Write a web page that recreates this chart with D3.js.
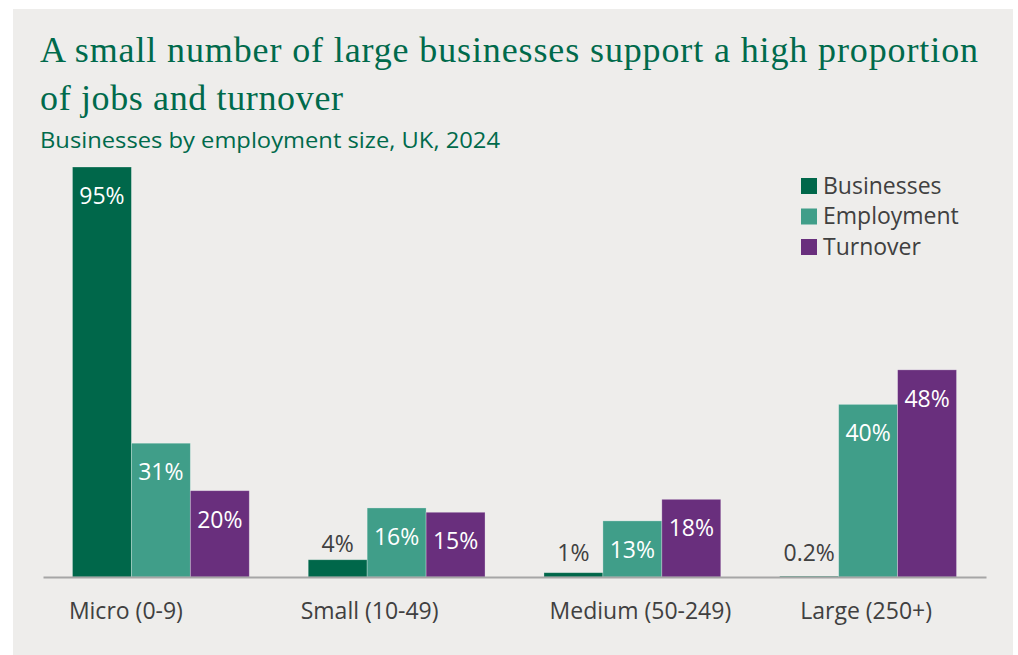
<!DOCTYPE html>
<html>
<head>
<meta charset="utf-8">
<script src="https://cdn.jsdelivr.net/npm/d3@7/dist/d3.min.js"></script>
<style>
  html, body { margin: 0; padding: 0; background: #ffffff; }
  svg { display: block; }
</style>
</head>
<body>
<svg id="chart" width="1018" height="655"></svg>
<script>
// Business population by employment size band, UK 2024 (share of total, %)
const categories = ["Micro (0-9)", "Small (10-49)", "Medium (50-249)", "Large (250+)"];
const seriesNames = ["Businesses", "Employment", "Turnover"];
const businesses = [95, 4, 1, 0.2];
const employment = [31, 16, 13, 40];
const turnover = [20, 15, 18, 48];
const valueLabels = [
  ["95%", "4%", "1%", "0.2%"],
  ["31%", "16%", "13%", "40%"],
  ["20%", "15%", "18%", "48%"]
];

const colors = ["#00674A", "#409E89", "#692F7D"];
const green = "#006A4B";
const sans = "'Open Sans', 'Noto Sans', sans-serif";

const svg = d3.select("#chart");
const W = 1018, H = 655;

// panel background
svg.append("rect").attr("x", 13).attr("y", 9).attr("width", 1000).attr("height", H - 9)
  .attr("fill", "#EEEDEB");

// headings
svg.append("text").attr("x", 40).attr("y", 62)
  .attr("font-family", "'Liberation Serif', 'Times New Roman', serif")
  .attr("font-size", 36).attr("fill", green)
  .attr("textLength", 938).attr("lengthAdjust", "spacing")
  .text("A small number of large businesses support a high proportion");
svg.append("text").attr("x", 40).attr("y", 110)
  .attr("font-family", "'Liberation Serif', 'Times New Roman', serif")
  .attr("font-size", 36).attr("fill", green)
  .attr("textLength", 303).attr("lengthAdjust", "spacing")
  .text("of jobs and turnover");
svg.append("text").attr("x", 40).attr("y", 148)
  .attr("font-family", sans).attr("font-size", 22).attr("fill", green)
  .attr("textLength", 460).attr("lengthAdjust", "spacingAndGlyphs")
  .text("Businesses by employment size, UK, 2024");

// scales
const x0 = d3.scaleBand().domain(categories).range([43, 986])
  .paddingInner(0.25).paddingOuter(0.125);
const x1 = d3.scaleBand().domain(seriesNames).range([0, x0.bandwidth()]);
const y = d3.scaleLinear().domain([0, 95]).range([577, 167]);

const series = [businesses, employment, turnover];
const rows = [];
series.forEach((vals, si) => {
  vals.forEach((v, ci) => {
    rows.push({ s: seriesNames[si], si, c: categories[ci], ci, v, label: valueLabels[si][ci] });
  });
});

// bars
svg.append("g").selectAll("rect").data(rows).join("rect")
  .attr("x", d => x0(d.c) + x1(d.s))
  .attr("y", d => y(d.v))
  .attr("width", x1.bandwidth())
  .attr("height", d => y(0) - y(d.v))
  .attr("fill", d => colors[d.si])
  .attr("stroke", "rgba(255,255,255,0.35)")
  .attr("stroke-width", 0.8);

// value labels: inside the top of tall bars, above short ones
svg.append("g").selectAll("text").data(rows).join("text")
  .attr("x", d => x0(d.c) + x1(d.s) + x1.bandwidth() / 2)
  .attr("y", d => d.v >= 10 ? y(d.v) + 37 : Math.min(y(d.v) - 8, y(0) - 16))
  .attr("text-anchor", "middle")
  .attr("font-family", sans).attr("font-size", 23)
  .attr("fill", d => d.v >= 10 ? "#ffffff" : "#404040")
  .text(d => d.label);

// baseline axis
const xAxis = d3.axisBottom(x0).tickSize(0).tickPadding(26);
const gx = svg.append("g").attr("transform", `translate(0,${y(0)})`).call(xAxis);
gx.select(".domain").attr("stroke", "#A6A6A6").attr("stroke-width", 2);
// category names sit slightly off their group centres
const tickShift = [-35, -27, 8, -2];
gx.selectAll(".tick text")
  .attr("x", (d, i) => tickShift[i])
  .attr("font-family", sans).attr("font-size", 23).attr("fill", "#404040");

// legend
const legend = svg.append("g").attr("transform", "translate(801,178)");
seriesNames.forEach((name, i) => {
  const g = legend.append("g").attr("transform", `translate(0,${i * 30.5})`);
  g.append("rect").attr("width", 16).attr("height", 16).attr("fill", colors[i]);
  g.append("text").attr("x", 22).attr("y", 15.5)
    .attr("font-family", sans).attr("font-size", 23).attr("fill", "#404040")
    .text(name);
});
</script>
</body>
</html>
